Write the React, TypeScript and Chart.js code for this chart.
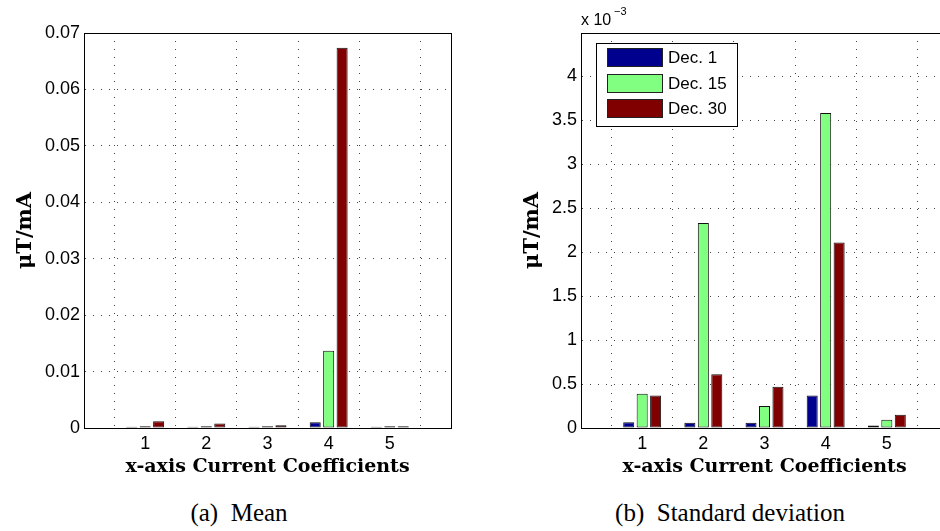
import React, { useEffect, useRef } from 'react';
import { Chart, registerables } from 'chart.js';
Chart.register(...registerables);

// ---- data ----
const categories = ['', '1', '2', '3', '4', '5', ''];
const seriesNames = ['Dec. 1', 'Dec. 15', 'Dec. 30'];
const seriesColors = ['#00008F', '#80FF80', '#800000'];

// (a) Mean, μT/mA
const meanDec1 = [null, 0.0002, 0.0002, 0.0002, 0.001, 0.0002, null];
const meanDec15 = [null, 0.0003, 0.0003, 0.0003, 0.0137, 0.0003, null];
const meanDec30 = [null, 0.0012, 0.0008, 0.0005, 0.0674, 0.0003, null];
const meanTicks = [0, 0.01, 0.02, 0.03, 0.04, 0.05, 0.06, 0.07];
const meanMax = 0.07;

// (b) Standard deviation, in units of 1e-3 μT/mA
const stdDec1 = [null, 0.065, 0.06, 0.06, 0.37, 0.027, null];
const stdDec15 = [null, 0.39, 2.33, 0.25, 3.58, 0.095, null];
const stdDec30 = [null, 0.37, 0.61, 0.47, 2.11, 0.15, null];
const stdTicks = [0, 0.5, 1, 1.5, 2, 2.5, 3, 3.5, 4];
const stdMax = 4.49;

const xTitle = 'x-axis Current Coefficients';
const yTitle = 'μT/mA';

Chart.defaults.font.family = '"Liberation Sans", Arial, sans-serif';
Chart.defaults.color = '#000';

const framePlugin = {
  id: 'frame',
  afterDatasetsDraw(chart: any) {
    const { ctx, chartArea: a } = chart;
    ctx.save();
    ctx.strokeStyle = '#000';
    ctx.lineWidth = 1;
    ctx.strokeRect(Math.round(a.left) + 0.5, Math.round(a.top) + 0.5, Math.round(a.right - a.left), Math.round(a.bottom - a.top));
    ctx.restore();
  },
};

const legendPlugin = {
  id: 'boxLegend',
  afterDatasetsDraw(chart: any) {
    const { ctx, chartArea: a } = chart;
    const x0 = Math.round(a.left) + 15;
    const y0 = Math.round(a.top) + 10;
    const w = 141;
    const h = 83;
    ctx.save();
    ctx.fillStyle = '#fff';
    ctx.fillRect(x0, y0, w, h);
    ctx.strokeStyle = '#000';
    ctx.lineWidth = 1;
    ctx.strokeRect(x0 + 0.5, y0 + 0.5, w, h);
    chart.data.datasets.forEach((ds: any, i: number) => {
      const sy = y0 + 5 + Math.round(i * 25.5);
      ctx.fillStyle = ds.backgroundColor;
      ctx.fillRect(x0 + 11, sy, 55, 18);
      ctx.strokeStyle = '#222';
      ctx.strokeRect(x0 + 11.5, sy + 0.5, 55, 18);
      ctx.fillStyle = '#000';
      ctx.font = '17px "Liberation Sans", Arial, sans-serif';
      ctx.textBaseline = 'middle';
      ctx.textAlign = 'left';
      ctx.fillText(ds.label, x0 + 72, sy + 10);
    });
    ctx.restore();
  },
};

function fmt(v: number) {
  return String(Number(Number(v).toFixed(4)));
}

function makeConfig(
  series: (number | null)[][],
  ticks: number[],
  max: number,
  yWidth: number,
  yTitlePad: number,
  rightPad: number,
  withLegend: boolean
): any {
  return {
    type: 'bar',
    data: {
      labels: categories,
      datasets: series.map((d, i) => ({
        label: seriesNames[i],
        data: d,
        backgroundColor: seriesColors[i],
        borderColor: '#111',
        borderWidth: 1,
        borderSkipped: false,
        categoryPercentage: 0.66,
        barPercentage: 0.82,
      })),
    },
    options: {
      responsive: false,
      animation: false,
      devicePixelRatio: 1,
      layout: { padding: { top: 33, right: rightPad, left: 0, bottom: 0 } },
      plugins: { legend: { display: false }, tooltip: { enabled: false } },
      scales: {
        x: {
          offset: false,
          grid: { color: '#444', lineWidth: 1, drawTicks: false },
          border: { display: true, color: '#000', width: 1, dash: [1, 7] },
          ticks: { autoSkip: false, maxRotation: 0, padding: 5, font: { size: 18 }, color: '#000' },
          title: {
            display: true,
            text: xTitle,
            font: { family: '"DejaVu Serif", serif', weight: 'bold', size: 19 },
            padding: { top: 0, bottom: 11.5 },
            color: '#000',
          },
          afterFit: (s: any) => {
            s.height = 62;
          },
        },
        y: {
          min: 0,
          max: max,
          grid: { color: '#444', lineWidth: 1, drawTicks: false },
          border: { display: true, color: '#000', width: 1, dash: [1, 7] },
          afterBuildTicks: (s: any) => {
            s.ticks = ticks.map((v) => ({ value: v }));
          },
          ticks: { padding: 4, font: { size: 18 }, color: '#000', callback: (v: any) => fmt(v) },
          title: {
            display: true,
            text: yTitle,
            font: { family: '"DejaVu Serif", serif', weight: 'bold', size: 21 },
            padding: { top: yTitlePad, bottom: 0 },
            color: '#000',
          },
          afterFit: (s: any) => {
            s.width = yWidth;
          },
        },
      },
    },
    plugins: withLegend ? [framePlugin, legendPlugin] : [framePlugin],
  };
}

function BarPanel(props: { cfg: any; left: number; width: number; height: number }) {
  const ref = useRef<HTMLCanvasElement | null>(null);
  useEffect(() => {
    if (!ref.current) return;
    const chart = new Chart(ref.current, props.cfg);
    return () => chart.destroy();
  }, []);
  return (
    <canvas
      ref={ref}
      width={props.width}
      height={props.height}
      style={{ position: 'absolute', left: props.left, top: 0, width: props.width, height: props.height }}
    />
  );
}

export default function App() {
  const meanCfg = makeConfig([meanDec1, meanDec15, meanDec30], meanTicks, meanMax, 84, 12.5, 19, false);
  const stdCfg = makeConfig([stdDec1, stdDec15, stdDec30], stdTicks, stdMax, 111, 49.5, 22, true);
  const capStyle: React.CSSProperties = {
    position: 'absolute',
    top: 500,
    fontFamily: '"Liberation Serif", "Times New Roman", serif',
    fontSize: 25,
    lineHeight: '25px',
    textAlign: 'center',
    whiteSpace: 'pre',
    color: '#000',
  };
  return (
    <div
      style={{
        position: 'fixed',
        left: 0,
        top: 0,
        width: 940,
        height: 531,
        overflow: 'hidden',
        background: '#fff',
      }}
    >
      <BarPanel cfg={meanCfg} left={0} width={470} height={490} />
      <BarPanel cfg={stdCfg} left={470} width={500} height={490} />
      <div
        style={{
          position: 'absolute',
          left: 581,
          top: 12,
          fontFamily: '"Liberation Sans", Arial, sans-serif',
          fontSize: 16,
          lineHeight: '16px',
          whiteSpace: 'pre',
          color: '#000',
        }}
      >
        x 10
        <span style={{ position: 'absolute', left: 33, top: -6, fontSize: 11, lineHeight: '11px' }}>−3</span>
      </div>
      <div style={{ ...capStyle, left: 0, width: 478 }}>(a)  Mean</div>
      <div style={{ ...capStyle, left: 530, width: 400 }}>(b)  Standard deviation</div>
    </div>
  );
}
